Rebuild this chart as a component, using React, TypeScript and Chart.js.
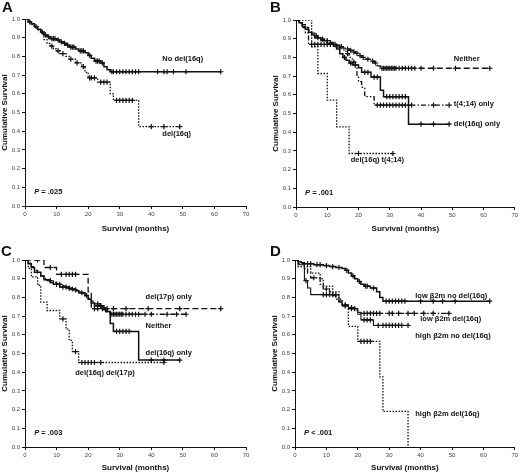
import { useEffect, useRef } from 'react';
import { Chart, registerables } from 'chart.js';

Chart.register(...registerables);

const FONT = '"Liberation Sans", Arial, Helvetica, sans-serif';

type Step = [number, number];

// x axis ticks (months)
const monthTicks = [0, 10, 20, 30, 40, 50, 60, 70];

// Panel A
const aNoDelSteps: Step[] = [[0, 1], [1, 0.985], [2, 0.975], [3, 0.96], [4, 0.945], [5, 0.93], [6, 0.915], [7, 0.905], [8, 0.895], [10, 0.888], [11, 0.878], [12, 0.87], [13, 0.86], [14, 0.85], [16, 0.84], [17, 0.83], [19, 0.82], [20, 0.805], [21, 0.79], [22, 0.775], [24, 0.765], [25, 0.745], [26, 0.728], [27, 0.718]];
const aNoDelCensored = [1.5, 3.5, 5.5, 6.5, 7.5, 8.5, 9, 9.5, 10.5, 11.5, 12.5, 13.5, 14.5, 15, 15.5, 17.5, 18, 18.5, 20.5, 22.5, 23, 23.5, 24.5, 27.5, 28, 29, 30, 31, 32, 33, 34, 35, 36, 42, 44, 45, 47, 51, 62];
const aDelSteps: Step[] = [[0, 1], [1, 0.985], [2, 0.97], [3, 0.955], [4, 0.94], [5, 0.925], [6, 0.89], [7, 0.87], [8, 0.855], [9, 0.84], [10, 0.83], [11, 0.815], [13, 0.8], [14, 0.785], [16, 0.765], [18, 0.745], [19, 0.715], [20, 0.685], [23, 0.662], [27, 0.6], [28, 0.565], [36, 0.425]];
const aDelCensored = [8.5, 10.5, 12, 14.5, 16.5, 18.5, 20.5, 21, 22, 24, 25, 26, 29, 30, 31, 32, 33, 34, 40, 44, 49];

// Panel B
const bNeitherSteps: Step[] = [[0, 1], [1, 0.99], [2, 0.975], [3, 0.96], [4, 0.945], [5, 0.93], [6, 0.915], [7, 0.905], [8, 0.898], [9, 0.89], [11, 0.88], [12, 0.87], [13, 0.865], [14, 0.858], [15, 0.85], [16, 0.845], [17, 0.838], [18, 0.83], [19, 0.822], [20, 0.81], [21, 0.8], [22, 0.79], [24, 0.78], [25, 0.77], [26, 0.755], [27, 0.742]];
const bNeitherCensored = [6.5, 8.5, 10, 12.5, 14.5, 16.5, 17.5, 18.5, 19.5, 20.5, 21.5, 23, 24.5, 25.5, 27.5, 28, 28.5, 29, 29.5, 30, 30.5, 31, 31.5, 32, 33, 34, 35, 36, 37, 38, 40, 44, 51, 62];
const bT414Steps: Step[] = [[0, 1], [1, 0.985], [2, 0.96], [3, 0.93], [4, 0.87], [12, 0.855], [15, 0.84], [16, 0.82], [17, 0.8], [18, 0.775], [19, 0.75], [19.5, 0.7], [20, 0.67], [21, 0.64], [22, 0.59], [25, 0.545]];
const bT414Censored = [5, 6, 7, 8, 9, 10, 11, 14, 16.5, 18.5, 26, 27, 28, 29, 30, 31, 32, 33, 34, 35, 37, 44, 49];
const bDelSteps: Step[] = [[0, 1], [1, 0.985], [2, 0.965], [3, 0.95], [4, 0.935], [5, 0.92], [6, 0.905], [8, 0.89], [10, 0.875], [12, 0.86], [13, 0.845], [14, 0.82], [15, 0.8], [16, 0.785], [17, 0.77], [18, 0.76], [20, 0.745], [21, 0.72], [24, 0.695], [27, 0.625], [28, 0.59], [36, 0.443]];
const bDelCensored = [7, 11, 15.5, 17.5, 19, 22, 23, 25, 26, 29, 30, 31, 32, 33, 34, 35, 40, 44, 49];
const bBothSteps: Step[] = [[0, 1], [5, 0.857], [7, 0.714], [10, 0.571], [13, 0.429], [17, 0.286]];
const bBothCensored = [20, 31];

// Panel C
const cD17pSteps: Step[] = [[0, 1], [6, 0.96], [10, 0.923], [20, 0.83], [21, 0.74]];
const cD17pCensored = [4, 8, 11.5, 13, 14, 15, 16, 22, 23, 24.5, 26, 28, 32, 39, 49, 62];
const cNeitherSteps: Step[] = [[0, 1], [1, 0.985], [2, 0.965], [3, 0.945], [4, 0.93], [5, 0.915], [6, 0.9], [7, 0.89], [9, 0.88], [10, 0.87], [12, 0.86], [13, 0.85], [15, 0.84], [17, 0.83], [18, 0.82], [19, 0.81], [20, 0.795], [21, 0.78], [22, 0.765], [24, 0.75], [25, 0.735], [26, 0.72], [27, 0.71]];
const cNeitherCensored = [8, 11, 14, 16, 19.5, 23, 25.5, 27.5, 28, 28.5, 29, 29.5, 30, 30.5, 31, 32, 33, 34, 35, 36, 38, 40, 45, 48, 51];
const cDelSteps: Step[] = [[0, 1], [1, 0.98], [2, 0.96], [3, 0.935], [5, 0.915], [6, 0.895], [8, 0.88], [9, 0.87], [11, 0.855], [14, 0.845], [16, 0.835], [17, 0.825], [19, 0.81], [20, 0.79], [21, 0.77], [22, 0.755], [25, 0.74], [26, 0.725], [27, 0.66], [28, 0.618], [36, 0.465]];
const cDelCensored = [10, 12, 13, 15, 18, 23, 24, 29, 30, 31, 32, 33, 40, 44, 49];
const cBothSteps: Step[] = [[0, 1], [1, 0.955], [2, 0.91], [4, 0.865], [5, 0.775], [7, 0.73], [11, 0.685], [13, 0.63], [14, 0.57], [15, 0.51], [17, 0.452]];
const cBothCensored = [12, 16, 18, 19, 20, 21, 22, 24, 44];

// Panel D
const dLowNoSteps: Step[] = [[0, 1], [1, 0.99], [2, 0.985], [3, 0.98], [6, 0.975], [9, 0.97], [11, 0.965], [13, 0.96], [15, 0.955], [16, 0.945], [17, 0.93], [18, 0.915], [19, 0.9], [20, 0.885], [21, 0.87], [22, 0.86], [24, 0.85], [26, 0.83], [27, 0.8], [28, 0.78]];
const dLowNoCensored = [4, 5, 7, 8, 10, 12, 14, 16.5, 18.5, 20.5, 22.5, 23, 25, 29, 30, 31, 32, 33, 34, 35, 40, 44, 47, 51, 62];
const dLowDelSteps: Step[] = [[0, 1], [1, 0.98], [3, 0.955], [4, 0.93], [5, 0.905], [8, 0.87], [9, 0.845], [11, 0.83], [12, 0.81], [13, 0.79], [14, 0.775], [15, 0.76], [17, 0.745], [19, 0.73], [20, 0.72], [21, 0.715]];
const dLowDelCensored = [6, 10, 16, 18, 22, 23, 24, 25, 26, 27, 30, 31, 33, 36, 38, 41, 44, 49];
const dHighNoSteps: Step[] = [[0, 1], [1, 0.975], [3, 0.89], [4, 0.85], [5, 0.815], [14, 0.78], [15, 0.755], [17, 0.74], [20, 0.71], [21, 0.68], [25, 0.65]];
const dHighNoCensored = [3.5, 9, 10, 11, 12, 13, 16, 18, 19, 22, 23, 24, 26.5, 28, 29, 30, 31, 32, 33, 34, 36];
const dHighDelSteps: Step[] = [[0, 1], [1, 0.965], [5, 0.93], [8, 0.9], [9, 0.86], [12, 0.83], [14, 0.79], [15, 0.755], [17, 0.645], [20, 0.565], [27, 0.375], [28, 0.19], [36, 0]];
const dHighDelCensored = [21, 22, 23, 24];

type LineKind = 'solid' | 'dash' | 'dashDot' | 'dashDotDot' | 'dot';
const DASHES: Record<LineKind, number[]> = {
  solid: [],
  dash: [6, 3],
  dashDot: [5, 2, 1.5, 2],
  dashDotDot: [5, 2, 1.5, 2, 1.5, 2],
  dot: [1.5, 1.5],
};

interface Curve { steps: Step[]; censored: number[]; kind: LineKind; width?: number }
interface Note { text: string; x: number; y: number }
interface PanelCfg {
  letter: string;
  letterPos: [number, number];
  pRest: string;
  curves: Curve[];
  notes: Note[];
  pad: { left: number; right: number; top: number };
  xHeight: number;
  titlePad: number;
  pos: [number, number];
}

const panels: PanelCfg[] = [
  {
    letter: 'A', letterPos: [2, 0], pRest: ' = .025', pos: [0, 0],
    pad: { left: 0, right: 14, top: 19 }, xHeight: 31, titlePad: 3,
    curves: [
      { steps: aNoDelSteps, censored: aNoDelCensored, kind: 'solid', width: 1.5 },
      { steps: aDelSteps, censored: aDelCensored, kind: 'dot' },
    ],
    notes: [
      { text: 'No del(16q)', x: 43.5, y: 0.785 },
      { text: 'del(16q)', x: 43.5, y: 0.385 },
    ],
  },
  {
    letter: 'B', letterPos: [10, 0], pRest: ' = .001', pos: [260, 0],
    pad: { left: 11, right: 4, top: 20 }, xHeight: 30, titlePad: 3,
    curves: [
      { steps: bNeitherSteps, censored: bNeitherCensored, kind: 'dash' },
      { steps: bT414Steps, censored: bT414Censored, kind: 'dashDotDot' },
      { steps: bDelSteps, censored: bDelCensored, kind: 'solid', width: 1.5 },
      { steps: bBothSteps, censored: bBothCensored, kind: 'dot' },
    ],
    notes: [
      { text: 'Neither', x: 50.5, y: 0.79 },
      { text: 't(4;14) only', x: 50.5, y: 0.55 },
      { text: 'del(16q) only', x: 50.5, y: 0.444 },
      { text: 'del(16q) t(4;14)', x: 17.5, y: 0.25 },
    ],
  },
  {
    letter: 'C', letterPos: [1, 7], pRest: ' = .003', pos: [0, 237],
    pad: { left: 0, right: 14, top: 23 }, xHeight: 27, titlePad: 1,
    curves: [
      { steps: cD17pSteps, censored: cD17pCensored, kind: 'dash' },
      { steps: cNeitherSteps, censored: cNeitherCensored, kind: 'dashDot' },
      { steps: cDelSteps, censored: cDelCensored, kind: 'solid', width: 1.5 },
      { steps: cBothSteps, censored: cBothCensored, kind: 'dot' },
    ],
    notes: [
      { text: 'del(17p) only', x: 38.2, y: 0.8 },
      { text: 'Neither', x: 38.2, y: 0.649 },
      { text: 'del(16q) only', x: 38.2, y: 0.505 },
      { text: 'del(16q) del(17p)', x: 15.9, y: 0.394 },
    ],
  },
  {
    letter: 'D', letterPos: [10, 7], pRest: ' < .001', pos: [260, 237],
    pad: { left: 10, right: 4, top: 23 }, xHeight: 27, titlePad: 1,
    curves: [
      { steps: dLowNoSteps, censored: dLowNoCensored, kind: 'solid', width: 1.5 },
      { steps: dLowDelSteps, censored: dLowDelCensored, kind: 'dashDot' },
      { steps: dHighNoSteps, censored: dHighNoCensored, kind: 'solid', width: 1.1 },
      { steps: dHighDelSteps, censored: dHighDelCensored, kind: 'dot' },
    ],
    notes: [
      { text: 'low β2m no del(16q)', x: 38.3, y: 0.81 },
      { text: 'low β2m del(16q)', x: 39.9, y: 0.685 },
      { text: 'high β2m no del(16q)', x: 38.3, y: 0.596 },
      { text: 'high β2m del(16q)', x: 38.3, y: 0.176 },
    ],
  },
];

function kmPoints(steps: Step[], censored: number[]) {
  const pts = steps.map(([x, y]) => ({ x, y, c: false }));
  censored.forEach((t) => {
    let y = steps[0][1];
    for (const [sx, sy] of steps) if (sx <= t) y = sy;
    pts.push({ x: t, y, c: true });
  });
  return pts.sort((a, b) => a.x - b.x);
}

function Panel({ cfg }: { cfg: PanelCfg }) {
  const canvasRef = useRef<HTMLCanvasElement>(null);

  useEffect(() => {
    if (!canvasRef.current) return;

    const datasets = cfg.curves.map((c) => {
      const pts = kmPoints(c.steps, c.censored);
      return {
        data: pts,
        stepped: 'before' as const,
        borderColor: '#111',
        borderWidth: c.width ?? 1.3,
        borderDash: DASHES[c.kind],
        pointStyle: 'cross' as const,
        pointRadius: pts.map((p) => (p.c ? 2.6 : 0)),
        pointBorderWidth: 1.2,
        pointBorderColor: '#111',
        fill: false,
      };
    });

    const annotate = {
      id: 'annotate',
      afterDraw(chart: Chart) {
        const { ctx } = chart;
        const x = chart.scales.x;
        const y = chart.scales.y;
        ctx.save();
        ctx.fillStyle = '#111';
        ctx.textAlign = 'left';
        ctx.textBaseline = 'middle';
        ctx.font = `bold 7.5px ${FONT}`;
        cfg.notes.forEach((n) => {
          ctx.fillText(n.text, x.getPixelForValue(n.x), y.getPixelForValue(n.y));
        });
        const px = x.getPixelForValue(2.9);
        const py = y.getPixelForValue(0.075);
        ctx.font = `italic bold 7.5px ${FONT}`;
        ctx.fillText('P', px, py);
        const w = ctx.measureText('P').width;
        ctx.font = `bold 7.5px ${FONT}`;
        ctx.fillText(cfg.pRest, px + w, py);
        ctx.font = `bold 15px ${FONT}`;
        ctx.textBaseline = 'top';
        ctx.fillText(cfg.letter, cfg.letterPos[0], cfg.letterPos[1]);
        ctx.restore();
      },
    };

    const chart = new Chart(canvasRef.current, {
      type: 'line',
      data: { datasets },
      plugins: [annotate],
      options: {
        animation: false,
        responsive: false,
        events: [],
        layout: { padding: { ...cfg.pad, bottom: 0 } },
        elements: { line: { tension: 0 } },
        plugins: { legend: { display: false }, tooltip: { enabled: false } },
        scales: {
          x: {
            type: 'linear',
            min: monthTicks[0],
            max: monthTicks[monthTicks.length - 1],
            afterBuildTicks: (s: any) => { s.ticks = monthTicks.map((v) => ({ value: v })); },
            ticks: { font: { size: 6, family: FONT }, color: '#444', padding: 2, maxRotation: 0, autoSkip: false },
            grid: { display: true, drawOnChartArea: false, tickLength: 3, tickColor: '#111' },
            border: { display: true, color: '#111', width: 1 },
            title: { display: true, text: 'Survival (months)', color: '#111', font: { size: 8, weight: 'bold', family: FONT }, padding: { top: 0, bottom: cfg.titlePad } },
            afterFit: (s: any) => { s.height = cfg.xHeight; s.paddingLeft = 0; s.paddingRight = 0; },
          },
          y: {
            type: 'linear',
            min: 0,
            max: 1,
            ticks: { stepSize: 0.1, font: { size: 6, family: FONT }, color: '#444', padding: 2, callback: (v: any) => Number(v).toFixed(1) },
            grid: { display: true, drawOnChartArea: false, tickLength: 3, tickColor: '#111' },
            border: { display: true, color: '#111', width: 1 },
            title: { display: true, text: 'Cumulative Survival', color: '#111', font: { size: 8, weight: 'bold', family: FONT }, padding: 0 },
            afterFit: (s: any) => { s.width = 25; s.paddingTop = 0; s.paddingBottom = 0; },
          },
        },
      },
    } as any);

    return () => chart.destroy();
  }, [cfg]);

  return (
    <canvas
      ref={canvasRef}
      width={260}
      height={237}
      style={{ position: 'absolute', left: cfg.pos[0], top: cfg.pos[1], width: 260, height: 237 }}
    />
  );
}

export default function App() {
  return (
    <div style={{ position: 'absolute', left: 0, top: 0, width: 520, height: 474, background: '#fff' }}>
      {panels.map((p) => (
        <Panel key={p.letter} cfg={p} />
      ))}
    </div>
  );
}
